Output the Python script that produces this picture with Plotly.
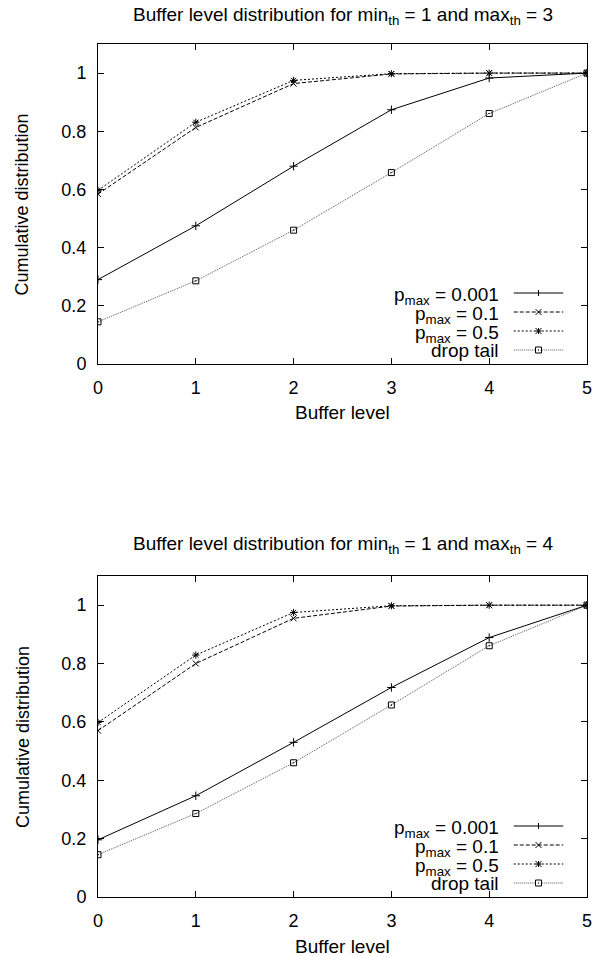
import plotly.graph_objects as go

# ---- data ----
levels = [0, 1, 2, 3, 4, 5]

top_p0001 = [0.29, 0.475, 0.68, 0.874, 0.983, 1.0]
top_p01 = [0.584, 0.813, 0.964, 0.997, 1.0, 1.0]
top_p05 = [0.597, 0.831, 0.975, 0.998, 1.0, 1.0]
top_droptail = [0.145, 0.286, 0.46, 0.658, 0.861, 1.0]

bot_p0001 = [0.196, 0.347, 0.53, 0.718, 0.889, 1.0]
bot_p01 = [0.57, 0.80, 0.955, 0.997, 1.0, 1.0]
bot_p05 = [0.598, 0.829, 0.975, 0.998, 1.0, 1.0]
bot_droptail = [0.145, 0.286, 0.46, 0.658, 0.861, 1.0]

series_names = ["p<sub>max</sub> = 0.001", "p<sub>max</sub> = 0.1",
                "p<sub>max</sub> = 0.5", "drop tail"]
titles = ["Buffer level distribution for min<sub>th</sub> = 1 and max<sub>th</sub> = 3",
          "Buffer level distribution for min<sub>th</sub> = 1 and max<sub>th</sub> = 4"]
y_ticks = [0, 0.2, 0.4, 0.6, 0.8, 1]
y_ticktext = ["0", "0.2", "0.4", "0.6", "0.8", "1"]
x_label = "Buffer level"
y_label = "Cumulative distribution"

# ---- styles ----
FONT = "Liberation Sans, Arial, Helvetica, sans-serif"
FS = 18      # tick labels / vertical label
FSH = 19     # horizontal texts (reference is slightly wide)
styles = [
    dict(dash="solid", color="black", symbol="cross-thin-open", size=6, kind="plus"),
    dict(dash="4px,2px", color="black", symbol="x-thin-open", size=6, kind="x"),
    dict(dash="2px,2px", color="black", symbol="asterisk-open", size=6, kind="star"),
    dict(dash="1px,1px", color="#555555", symbol="square-open-dot", size=6, kind="square"),
]

W, H = 599, 956
ML, MT = 98, 44
plot_right = 592
plot_bottom = 897
MR = W - plot_right
MB = H - plot_bottom
PW = W - ML - MR
PH = H - MT - MB


def pfrac(py):
    return (plot_bottom - py) / PH


def xfrac(px):
    return (px - ML) / PW


top_dom = [pfrac(364), 1.0]
bot_dom = [0.0, pfrac(576)]

fig = go.Figure()

panels = [
    ("x", "y", [top_p0001, top_p01, top_p05, top_droptail]),
    ("x2", "y2", [bot_p0001, bot_p01, bot_p05, bot_droptail]),
]

for xa, ya, data in panels:
    for i in [3, 0, 1, 2]:
        st = styles[i]
        fig.add_trace(go.Scatter(
            x=levels, y=data[i], xaxis=xa, yaxis=ya,
            mode="lines+markers", name=series_names[i], showlegend=False,
            line=dict(color=st["color"], width=1, dash=st["dash"]),
            marker=dict(symbol=st["symbol"], size=st["size"], color="black",
                        line=dict(color="black", width=1)),
            hoverinfo="skip",
        ))

axis_common = dict(
    showline=True, linecolor="black", linewidth=1, mirror="ticks",
    ticks="inside", ticklen=6, tickcolor="black", tickwidth=1,
    showgrid=False, zeroline=False,
    tickfont=dict(family=FONT, size=FS, color="black"),
    ticklabelstandoff=7,
)

fig.update_layout(
    width=W, height=H,
    margin=dict(l=ML, r=MR, t=MT, b=MB),
    paper_bgcolor="white", plot_bgcolor="white",
    font=dict(family=FONT, size=FS, color="black"),
    showlegend=False,
    xaxis=dict(domain=[0, 1], anchor="y", range=[0, 5], tickvals=levels, **axis_common),
    yaxis=dict(domain=top_dom, anchor="x", range=[0, 1.1], tickvals=y_ticks,
               ticktext=y_ticktext, **axis_common),
    xaxis2=dict(domain=[0, 1], anchor="y2", range=[0, 5], tickvals=levels, **axis_common),
    yaxis2=dict(domain=bot_dom, anchor="x2", range=[0, 1.1], tickvals=y_ticks,
                ticktext=y_ticktext, **axis_common),
)

annotations = []
shapes = []

panel_geom = [
    dict(title_py=16, xlabel_py=413, top=44, bottom=364, xr="x", yr="y"),
    dict(title_py=545, xlabel_py=946, top=576, bottom=897, xr="x2", yr="y2"),
]
for k, g in enumerate(panel_geom):
    annotations.append(dict(text=titles[k], xref="paper", yref="paper", x=0.5,
                            y=pfrac(g["title_py"]), xanchor="center", yanchor="middle",
                            showarrow=False, font=dict(family=FONT, size=FSH, color="black")))
    annotations.append(dict(text=x_label, xref="paper", yref="paper", x=0.5,
                            y=pfrac(g["xlabel_py"]), xanchor="center", yanchor="middle",
                            showarrow=False, font=dict(family=FONT, size=FSH, color="black")))
    annotations.append(dict(text=y_label, xref="paper", yref="paper",
                            x=xfrac(21.7), y=pfrac((g["top"] + g["bottom"]) / 2),
                            xanchor="center", yanchor="middle", textangle=-90,
                            showarrow=False, font=dict(family=FONT, size=FS, color="black")))

    # gnuplot-style key: text right-aligned, sample to its right
    dom_h = g["bottom"] - g["top"]
    xr_d = g["xr"] + " domain"
    yr_d = g["yr"] + " domain"
    row_offsets = [71, 52, 33, 14]
    text_right = xfrac(505)
    s0, s1, sm = xfrac(518), xfrac(568), xfrac(543)
    for i, off in enumerate(row_offsets):
        yf = off / dom_h
        st = styles[i]
        annotations.append(dict(text=series_names[i], xref=xr_d, yref=yr_d,
                                x=text_right, y=yf, xanchor="right", yanchor="middle",
                                yshift=-3 if i < 3 else 0,
                                showarrow=False, font=dict(family=FONT, size=FSH, color="black")))
        shapes.append(dict(type="line", xref=xr_d, yref=yr_d, x0=s0, x1=s1, y0=yf, y1=yf,
                           line=dict(color=st["color"], width=1, dash=st["dash"])))
        hx = 3.0 / PW
        hy = 3.0 / dom_h
        lw = dict(color="black", width=1)
        if st["kind"] == "plus":
            shapes.append(dict(type="line", xref=xr_d, yref=yr_d, x0=sm, x1=sm,
                               y0=yf - hy, y1=yf + hy, line=lw))
        elif st["kind"] == "x":
            shapes.append(dict(type="line", xref=xr_d, yref=yr_d, x0=sm - hx, x1=sm + hx,
                               y0=yf - hy, y1=yf + hy, line=lw))
            shapes.append(dict(type="line", xref=xr_d, yref=yr_d, x0=sm - hx, x1=sm + hx,
                               y0=yf + hy, y1=yf - hy, line=lw))
        elif st["kind"] == "star":
            shapes.append(dict(type="line", xref=xr_d, yref=yr_d, x0=sm - hx, x1=sm + hx,
                               y0=yf - hy, y1=yf + hy, line=lw))
            shapes.append(dict(type="line", xref=xr_d, yref=yr_d, x0=sm - hx, x1=sm + hx,
                               y0=yf + hy, y1=yf - hy, line=lw))
            shapes.append(dict(type="line", xref=xr_d, yref=yr_d, x0=sm, x1=sm,
                               y0=yf - hy, y1=yf + hy, line=lw))
            shapes.append(dict(type="line", xref=xr_d, yref=yr_d, x0=sm - hx, x1=sm + hx,
                               y0=yf, y1=yf, line=lw))
        else:
            shapes.append(dict(type="rect", xref=xr_d, yref=yr_d, x0=sm - hx, x1=sm + hx,
                               y0=yf - hy, y1=yf + hy, line=lw, fillcolor="white"))
            shapes.append(dict(type="rect", xref=xr_d, yref=yr_d, x0=sm - 0.6 / PW,
                               x1=sm + 0.6 / PW, y0=yf - 0.6 / dom_h, y1=yf + 0.6 / dom_h,
                               line=dict(width=0), fillcolor="black"))

fig.update_layout(annotations=annotations, shapes=shapes)

fig.write_html(
    "out.html",
    config={"displayModeBar": False, "staticPlot": True},
    post_script="document.body.style.margin='0';document.body.style.overflow='hidden';",
)
